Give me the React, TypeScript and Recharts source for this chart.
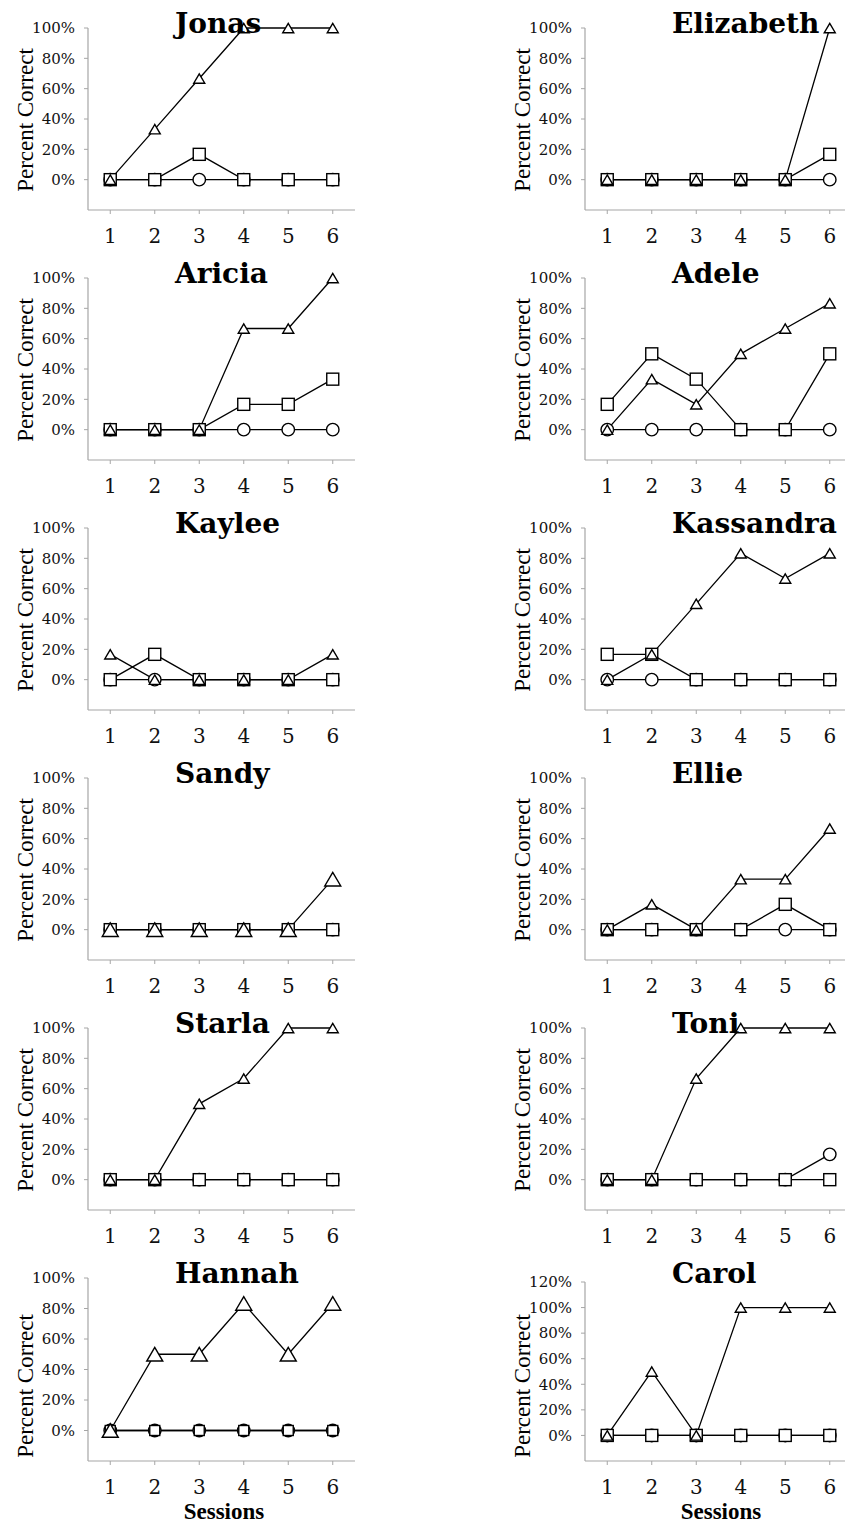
import { LineChart, Line, XAxis, YAxis } from "recharts";

const sessions = [1, 2, 3, 4, 5, 6];

// percent correct per session: circle / square / triangle series
const jonas = { circle: [0, 0, 0, 0, 0, 0], square: [0, 0, 16.7, 0, 0, 0], triangle: [0, 33.3, 66.7, 100, 100, 100] };
const elizabeth = { circle: [0, 0, 0, 0, 0, 0], square: [0, 0, 0, 0, 0, 16.7], triangle: [0, 0, 0, 0, 0, 100] };
const aricia = { circle: [0, 0, 0, 0, 0, 0], square: [0, 0, 0, 16.7, 16.7, 33.3], triangle: [0, 0, 0, 66.7, 66.7, 100] };
const adele = { circle: [0, 0, 0, 0, 0, 0], square: [16.7, 50, 33.3, 0, 0, 50], triangle: [0, 33.3, 16.7, 50, 66.7, 83.3] };
const kaylee = { circle: [0, 0, 0, 0, 0, 0], square: [0, 16.7, 0, 0, 0, 0], triangle: [16.7, 0, 0, 0, 0, 16.7] };
const kassandra = { circle: [0, 0, 0, 0, 0, 0], square: [16.7, 16.7, 0, 0, 0, 0], triangle: [0, 16.7, 50, 83.3, 66.7, 83.3] };
const sandy = { circle: [0, 0, 0, 0, 0, 0], square: [0, 0, 0, 0, 0, 0], triangle: [0, 0, 0, 0, 0, 33.3] };
const ellie = { circle: [0, 0, 0, 0, 0, 0], square: [0, 0, 0, 0, 16.7, 0], triangle: [0, 16.7, 0, 33.3, 33.3, 66.7] };
const starla = { circle: [0, 0, 0, 0, 0, 0], square: [0, 0, 0, 0, 0, 0], triangle: [0, 0, 50, 66.7, 100, 100] };
const toni = { circle: [0, 0, 0, 0, 0, 16.7], square: [0, 0, 0, 0, 0, 0], triangle: [0, 0, 66.7, 100, 100, 100] };
const hannah = { circle: [0, 0, 0, 0, 0, 0], square: [0, 0, 0, 0, 0, 0], triangle: [0, 50, 50, 83.3, 50, 83.3] };
const carol = { circle: [0, 0, 0, 0, 0, 0], square: [0, 0, 0, 0, 0, 0], triangle: [0, 50, 0, 100, 100, 100] };

const ticks100 = [0, 20, 40, 60, 80, 100];
const ticks120 = [0, 20, 40, 60, 80, 100, 120];

const panels = [
  { name: "Jonas", values: jonas },
  { name: "Elizabeth", values: elizabeth },
  { name: "Aricia", values: aricia },
  { name: "Adele", values: adele },
  { name: "Kaylee", values: kaylee },
  { name: "Kassandra", values: kassandra },
  { name: "Sandy", values: sandy, tri: 16 },
  { name: "Ellie", values: ellie },
  { name: "Starla", values: starla },
  { name: "Toni", values: toni },
  { name: "Hannah", values: hannah, tri: 16, sq: 10 },
  { name: "Carol", values: carol, ticks: ticks120 },
];

const AXIS = "#a6a6a6";
const CAMBRIA = "'DejaVu Serif', serif";
const TIMES = "'Liberation Serif', serif";

function marker(shape: string, size: number) {
  return (props: any) => {
    const { cx, cy, index } = props;
    if (cx == null || cy == null) return <g key={`m-${shape}-${index}`} />;
    const common = { fill: "#fff", stroke: "#000", strokeWidth: 1.4 };
    if (shape === "circle") {
      return <circle key={`m-${shape}-${index}`} cx={cx} cy={cy} r={size / 2} {...common} />;
    }
    if (shape === "square") {
      return <rect key={`m-${shape}-${index}`} x={cx - size / 2} y={cy - size / 2} width={size} height={size} {...common} />;
    }
    const h = size * 0.85;
    const pts = `${cx},${cy - h / 2} ${cx - size / 2},${cy + h / 2} ${cx + size / 2},${cy + h / 2}`;
    return <polygon key={`m-${shape}-${index}`} points={pts} {...common} />;
  };
}

function Panel({ p, row, col }: { p: any; row: number; col: number }) {
  const last = row === 5;
  const height = last ? 275 : 250;
  const ticks = p.ticks || ticks100;
  const yMax = ticks[ticks.length - 1];
  const top = yMax === 120 ? 32 : 28;
  const bottomPad = last ? 64 : 40;
  const data = sessions.map((s, i) => ({
    session: s,
    circle: p.values.circle[i],
    square: p.values.square[i],
    triangle: p.values.triangle[i],
  }));
  const labelCenter = last ? 136 : 120;

  return (
    <div style={{ position: "absolute", left: col === 0 ? 0 : 497, top: row * 250, width: 360, height }}>
      <LineChart width={360} height={height} data={data} margin={{ top, right: 5, bottom: 0, left: 0 }}>
        <XAxis
          type="number"
          dataKey="session"
          domain={[0.5, 6.5]}
          ticks={sessions}
          height={bottomPad}
          tickSize={4}
          tickMargin={15}
          axisLine={{ stroke: AXIS, strokeWidth: 1.2 }}
          tickLine={{ stroke: AXIS }}
          tick={{ fontFamily: CAMBRIA, fontSize: 20, fill: "#111" }}
        />
        <YAxis
          type="number"
          domain={[-20, yMax]}
          ticks={ticks}
          width={88}
          tickSize={4}
          tickMargin={9}
          axisLine={{ stroke: AXIS, strokeWidth: 1.2 }}
          tickLine={{ stroke: AXIS }}
          tickFormatter={(v) => `${v}%`}
          tick={{ fontFamily: CAMBRIA, fontSize: 15, fill: "#111" }}
        />
        <Line dataKey="circle" stroke="#000" strokeWidth={1.3} isAnimationActive={false} dot={marker("circle", 12.5)} activeDot={false} />
        <Line dataKey="square" stroke="#000" strokeWidth={1.3} isAnimationActive={false} dot={marker("square", p.sq || 12)} activeDot={false} />
        <Line dataKey="triangle" stroke="#000" strokeWidth={1.3} isAnimationActive={false} dot={marker("triangle", p.tri || 11)} activeDot={false} />
      </LineChart>
      <svg width={360} height={height} style={{ position: "absolute", left: 0, top: 0, pointerEvents: "none" }}>
        <text x={175} y={33} fontFamily={CAMBRIA} fontWeight="bold" fontSize={28} fill="#000">
          {p.name}
        </text>
        <text
          x={33}
          y={labelCenter}
          transform={`rotate(-90, 33, ${labelCenter})`}
          textAnchor="middle"
          fontFamily={TIMES}
          fontSize={23}
          fill="#000"
        >
          Percent Correct
        </text>
        {last && (
          <text x={224} y={269} textAnchor="middle" fontFamily={TIMES} fontWeight="bold" fontSize={23} fill="#000">
            Sessions
          </text>
        )}
      </svg>
    </div>
  );
}

export default function App() {
  return (
    <div style={{ position: "absolute", left: 0, top: 0, width: 845, height: 1525, overflow: "hidden", background: "#fff" }}>
      {panels.map((p, i) => (
        <Panel key={p.name} p={p} row={Math.floor(i / 2)} col={i % 2} />
      ))}
    </div>
  );
}
